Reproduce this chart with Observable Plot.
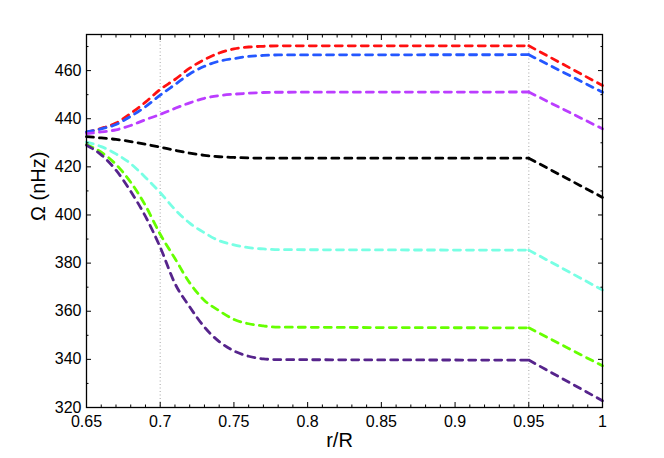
<!DOCTYPE html>
<html>
<head>
<meta charset="utf-8">
<script src="https://cdn.jsdelivr.net/npm/d3@7"></script>
<script src="https://cdn.jsdelivr.net/npm/@observablehq/plot@0.6"></script>
<style>
  html, body { margin: 0; padding: 0; background: #fff; }
</style>
</head>
<body>
<div id="chart"></div>
<script>
// radius samples r/R
const r = [0.65, 0.66, 0.67, 0.68, 0.69, 0.70, 0.71, 0.72, 0.73, 0.74, 0.75, 0.76, 0.77, 0.78, 0.95, 1.00];

// Omega (nHz) per series
const s1 = [434.3, 436.0, 438.2, 442.2, 446.9, 452.2, 456.3, 461.0, 464.6, 467.3, 469.0, 469.8, 470.1, 470.3, 470.3, 453.8];
const s2 = [434.5, 435.8, 437.6, 441.0, 445.0, 449.8, 454.2, 458.6, 461.8, 463.9, 465.0, 465.9, 466.3, 466.5, 466.6, 451.0];
const s3 = [433.8, 434.5, 435.4, 437.2, 439.6, 441.8, 444.3, 446.6, 448.5, 449.6, 450.2, 450.6, 450.9, 451.0, 451.1, 435.8];
const s4 = [432.6, 432.0, 431.4, 430.5, 429.4, 428.2, 426.9, 425.7, 424.8, 424.2, 423.9, 423.7, 423.6, 423.6, 423.6, 407.3];
const s5 = [430.3, 428.4, 425.4, 421.3, 415.6, 409.3, 402.3, 396.6, 392.6, 389.3, 387.6, 386.4, 385.9, 385.6, 385.4, 368.8];
const s6 = [429.3, 426.1, 421.0, 413.6, 403.9, 392.0, 381.9, 371.8, 364.5, 360.2, 356.6, 354.8, 353.9, 353.4, 353.1, 337.3];
const s7 = [429.0, 425.0, 418.6, 409.8, 399.4, 386.6, 371.5, 361.8, 353.4, 347.4, 343.5, 341.3, 340.2, 339.9, 339.7, 322.8];

const seriesNames  = ["s1", "s2", "s3", "s4", "s5", "s6", "s7"];
const seriesValues = [s1, s2, s3, s4, s5, s6, s7];
const seriesColors = ["#ff1010", "#2457ff", "#bb3dff", "#000000", "#78ffe4", "#66ff00", "#56248c"];

// axis ticks
const xMajor = [0.65, 0.7, 0.75, 0.8, 0.85, 0.9, 0.95, 1];
const xMinor = d3.range(66, 100).filter(v => v % 5 !== 0).map(v => v / 100);
const yMajor = [320, 340, 360, 380, 400, 420, 440, 460];
const yMinor = [330, 350, 370, 390, 410, 430, 450, 470];
const xLabels = ["0.65", "0.7", "0.75", "0.8", "0.85", "0.9", "0.95", "1"];
const guides = [0.7, 0.95];

const rows = [];
seriesNames.forEach((name, i) => {
  r.forEach((rv, j) => rows.push({name, r: rv, omega: seriesValues[i][j]}));
});
const inner = rows.filter(d => d.r <= 0.95);
const outer = rows.filter(d => d.r >= 0.95);

const font = "'Liberation Sans', Arial, Helvetica, sans-serif";
const lineStyle = {
  x: "r", y: "omega", z: "name", stroke: "name",
  strokeWidth: 2.8, strokeDasharray: "7,6"
};

const chart = Plot.plot({
  width: 664,
  height: 458,
  marginLeft: 86,
  marginRight: 62,
  marginTop: 34,
  marginBottom: 51,
  style: {fontFamily: font, fontSize: "16px", color: "#000", background: "#fff"},
  x: {domain: [0.65, 1]},
  y: {domain: [320, 475]},
  color: {type: "ordinal", domain: seriesNames, range: seriesColors},
  marks: [
    Plot.ruleX(guides, {stroke: "#b5b5b5", strokeWidth: 1.2, strokeDasharray: "1,2.5"}),
    Plot.line(inner, {...lineStyle, curve: "monotone-x"}),
    Plot.line(outer, {...lineStyle, curve: "linear"}),
    Plot.frame({stroke: "#000", strokeWidth: 1.3}),
    Plot.axisX(xMajor, {anchor: "bottom", tickSize: -5, tickPadding: 13, tickFormat: d => xLabels[xMajor.indexOf(d)], label: null, fontSize: 16}),
    Plot.axisX(xMinor, {anchor: "bottom", tickSize: -2.5, tickFormat: () => "", label: null}),
    Plot.axisX(xMajor, {anchor: "top", tickSize: -5, tickFormat: () => "", label: null}),
    Plot.axisX(xMinor, {anchor: "top", tickSize: -2.5, tickFormat: () => "", label: null}),
    Plot.axisY(yMajor, {anchor: "left", tickSize: -5, tickPadding: 10, tickFormat: d => String(d), label: null, fontSize: 16}),
    Plot.axisY(yMinor, {anchor: "left", tickSize: -2.5, tickFormat: () => "", label: null}),
    Plot.axisY(yMajor, {anchor: "right", tickSize: -5, tickFormat: () => "", label: null}),
    Plot.axisY(yMinor, {anchor: "right", tickSize: -2.5, tickFormat: () => "", label: null}),
    Plot.text(["r/R"], {frameAnchor: "bottom", dy: 33, dx: -5, fontSize: 20, lineAnchor: "middle"}),
    Plot.text(["Ω (nHz)"], {frameAnchor: "left", dx: -48, rotate: -90, fontSize: 20, lineAnchor: "middle"})
  ]
});
document.getElementById("chart").appendChild(chart);
</script>
</body>
</html>
